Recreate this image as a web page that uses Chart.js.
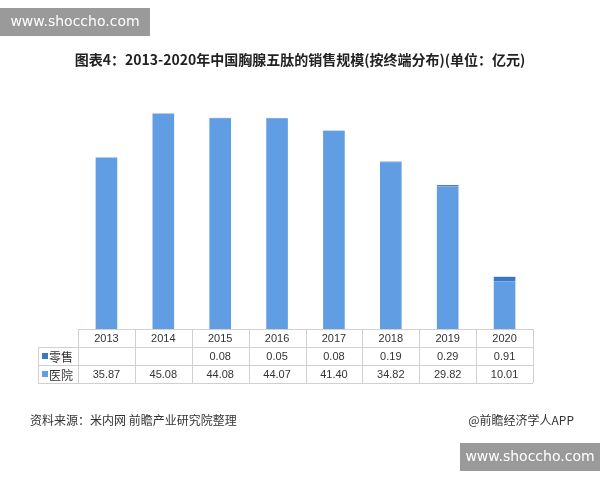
<!DOCTYPE html>
<html><head><meta charset="utf-8">
<script src="https://cdn.jsdelivr.net/npm/chart.js@4"></script>
<style>html,body{margin:0;padding:0;background:#fff}#w{width:600px;height:480px}</style>
</head><body><div id="w"><canvas id="c"></canvas></div>
<script>
const years = ['2013','2014','2015','2016','2017','2018','2019','2020'];
const hospital = [35.87,45.08,44.08,44.07,41.40,34.82,29.82,10.01];
const retail = [null,null,0.08,0.05,0.08,0.19,0.29,0.91];
const seriesNames = ['零售','医院'];
const title = '图表4：2013-2020年中国胸腺五肽的销售规模(按终端分布)(单位：亿元)';
const source = '资料来源：米内网 前瞻产业研究院整理';
const brand = '@前瞻经济学人APP';
const cHosp = '#609de3', cRet = '#3a78c6';
const fontCN = '"Noto Sans CJK SC", sans-serif';

const deco = {
  id:'deco',
  afterDraw(chart){
    const ctx = chart.ctx, x = chart.scales.x, ca = chart.chartArea;
    ctx.save();
    // title
    ctx.fillStyle='#222'; ctx.font='bold 14px '+fontCN; ctx.textAlign='center'; ctx.textBaseline='middle';
    ctx.fillText(title, 300, 60);
    // watermarks
    ctx.fillStyle='#9a9a9a'; ctx.fillRect(0,8,150,28); ctx.fillRect(460,443,140,28);
    ctx.fillStyle='#fff'; ctx.font='14px "DejaVu Sans", sans-serif';
    ctx.fillText('www.shoccho.com',75,22); ctx.fillText('www.shoccho.com',530,457);
    // table
    const colW = (ca.right-ca.left)/years.length;
    const y0 = ca.bottom, rh = 18, labL = 38;
    ctx.strokeStyle='#d0d0d0'; ctx.lineWidth=1;
    ctx.beginPath();
    ctx.moveTo(ca.left,y0+.5); ctx.lineTo(ca.right,y0+.5);
    for(let r=1;r<=3;r++){ ctx.moveTo(r===1?labL:labL, y0+r*rh+.5); ctx.lineTo(ca.right, y0+r*rh+.5); }
    ctx.moveTo(labL+.5, y0+rh); ctx.lineTo(labL+.5, y0+3*rh);
    for(let i=0;i<=years.length;i++){ const xx=Math.round(ca.left+i*colW)+.5; ctx.moveTo(xx,y0); ctx.lineTo(xx,y0+3*rh); }
    ctx.stroke();
    ctx.fillStyle='#333'; ctx.font='11px "Liberation Sans", sans-serif';
    years.forEach((yv,i)=>{
      const cx = x.getPixelForValue(i);
      ctx.fillText(yv,cx,y0+rh/2+1);
      if(retail[i]!=null) ctx.fillText(retail[i].toFixed(2),cx,y0+rh*1.5+1);
      ctx.fillText(hospital[i].toFixed(2),cx,y0+rh*2.5+1);
    });
    ctx.textAlign='left'; ctx.font='12px '+fontCN;
    ctx.fillStyle=cRet; ctx.fillRect(42,y0+rh*1.5-3,6,6);
    ctx.fillStyle=cHosp; ctx.fillRect(42,y0+rh*2.5-3,6,6);
    ctx.fillStyle='#333';
    ctx.fillText(seriesNames[0],49,y0+rh*1.5+1); ctx.fillText(seriesNames[1],49,y0+rh*2.5+1);
    // footer
    ctx.font='12px '+fontCN; ctx.fillText(source,30,420);
    ctx.textAlign='right'; ctx.fillText(brand,574,420);
    ctx.restore();
  }
};

new Chart(document.getElementById('c'),{
  type:'bar',
  data:{labels:years,datasets:[
    {label:seriesNames[1],data:hospital,backgroundColor:cHosp,barPercentage:0.38,categoryPercentage:1},
    {label:seriesNames[0],data:retail,backgroundColor:cRet,barPercentage:0.38,categoryPercentage:1}
  ]},
  options:{responsive:true,maintainAspectRatio:false,animation:false,
    layout:{padding:{left:78,right:67,top:90,bottom:151}},
    plugins:{legend:{display:false},tooltip:{enabled:false}},
    scales:{x:{stacked:true,display:false},y:{stacked:true,display:false,min:0,max:50}}
  },
  plugins:[deco]
});
</script></body></html>
